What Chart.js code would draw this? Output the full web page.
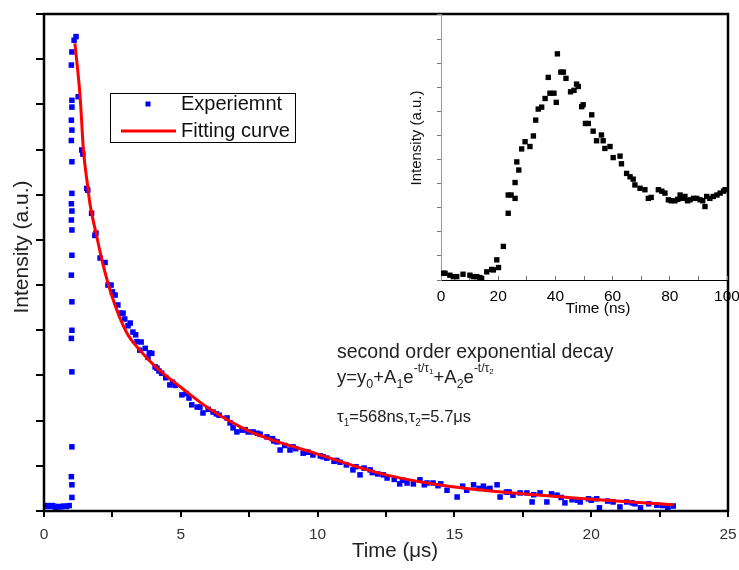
<!DOCTYPE html>
<html>
<head>
<meta charset="utf-8">
<script src="https://cdn.jsdelivr.net/npm/chart.js@4.4.0/dist/chart.umd.min.js"></script>
<style>
    html, body { margin: 0; padding: 0; background: #fff; }
    #wrap { position: relative; width: 739px; height: 570px; }
    #mainChart { position: absolute; left: 0; top: 0; }
    #insetChart { position: absolute; left: 395px; top: 0; }
</style>
</head>
<body>
<div id="wrap">
    <canvas id="mainChart" width="739" height="570"></canvas>
    <canvas id="insetChart" width="345" height="320"></canvas>
</div>
<script>
// Main decay, time in microseconds, intensity in a.u.
const expTime = [0.02, 0.12, 0.22, 0.32, 0.42, 0.52, 0.62, 0.72, 0.82, 0.92,
    1.02, 1.02, 1.0, 1.02, 1.02, 1.0, 1.02, 1.02, 1.0, 1.02, 1.02, 1.0, 1.02, 1.0, 1.02, 1.02, 1.0, 1.02, 1.0, 1.02, 1.02, 1.0, 1.02,
    1.1, 1.17, 1.25, 1.38, 1.42, 1.56, 1.6, 1.74, 1.86, 1.9, 2.05, 2.23, 2.34, 2.45, 2.6, 2.7, 2.78, 2.89,
    3.07, 3.15, 3.25, 3.35, 3.5, 3.55, 3.7, 3.85, 3.94, 4.06, 4.13, 4.3, 4.45, 4.6, 4.8, 5.04, 5.2, 5.4,
    5.6, 5.81, 6.0, 6.18, 6.4, 6.69, 6.91, 7.05, 7.24, 7.46, 7.64, 7.9, 8.15, 8.35, 8.52, 8.63, 8.8, 8.99,
    9.2, 9.47, 9.65, 9.83, 10.1, 10.34, 10.6, 10.82, 11.05, 11.29, 11.55, 11.7, 11.92, 12.2, 12.54, 12.8,
    13.0, 13.27, 13.5, 13.74, 14.0, 14.22, 14.5, 14.73, 15.1, 15.3, 15.45, 15.7, 16.06, 16.3, 16.56, 16.67,
    16.9, 17.14, 17.4, 17.65, 17.84, 18.13, 18.38, 18.55, 18.75, 19.04, 19.3, 19.6, 19.9, 20.2, 20.3, 20.6,
    21.05, 21.3, 21.5, 21.8, 22.1, 22.4, 22.8, 23.0,
    2.5, 2.95, 3.4, 3.8, 4.2, 4.7, 5.3, 5.7, 6.3, 6.8, 7.35, 7.8, 8.4, 9.1, 9.6, 10.2, 10.7, 11.4, 12.0, 12.4,
    13.1, 13.9, 14.4, 15.9, 16.2, 17.0, 17.9, 18.9, 19.5, 20.0, 20.8, 21.6, 22.6];
const expIntensity = [0.1, 0.12, 0.1, 0.12, 0.08, 0.1, 0.09, 0.11, 0.1, 0.12,
    0.3, 0.58, 0.76, 1.42, 3.08, 3.82, 4.0, 4.63, 5.22, 5.66, 6.22, 6.44, 6.64, 6.8, 7.03, 7.73, 8.2, 8.43, 8.65, 8.94, 9.09, 9.87, 10.16,
    10.42, 10.5, 9.17, 7.99, 7.9, 7.14, 7.1, 6.59, 6.1, 6.15, 5.6, 5.5, 5.0, 5.0, 4.78, 4.56, 4.38, 4.38,
    4.1, 4.16, 3.96, 3.9, 3.56, 3.74, 3.6, 3.5, 3.49, 3.19, 3.16, 3.05, 2.95, 2.79, 2.78, 2.57, 2.6, 2.35,
    2.3, 2.17, 2.25, 2.19, 2.12, 2.06, 1.84, 1.75, 1.79, 1.75, 1.75, 1.7, 1.64, 1.6, 1.53, 1.35, 1.45, 1.35,
    1.38, 1.28, 1.3, 1.24, 1.22, 1.17, 1.1, 1.08, 1.02, 0.91, 0.8, 0.95, 0.91, 0.82, 0.73, 0.7,
    0.6, 0.62, 0.6, 0.69, 0.62, 0.62, 0.6, 0.46, 0.31, 0.55, 0.46, 0.58, 0.55, 0.5, 0.58, 0.31,
    0.42, 0.35, 0.4, 0.4, 0.2, 0.4, 0.2, 0.38, 0.35, 0.18, 0.25, 0.2, 0.27, 0.27, 0.07, 0.22,
    0.09, 0.2, 0.18, 0.07, 0.16, 0.13, 0.07, 0.11,
    4.85, 4.25, 3.75, 3.4, 3.1, 2.85, 2.5, 2.3, 2.15, 1.95, 1.8, 1.72, 1.55, 1.42, 1.3, 1.2, 1.12, 0.98, 0.85, 0.8,
    0.68, 0.58, 0.56, 0.5, 0.48, 0.42, 0.36, 0.3, 0.24, 0.24, 0.2, 0.16, 0.12];

// Second order exponential fit
const fitTime = [1.13, 1.32, 1.44, 1.6, 1.68, 1.93, 2.16, 2.53, 3.02, 3.5, 4.12, 5.0, 6.0, 7.5, 10, 12.5, 15, 17.5, 20, 23];
const fitIntensity = [10.35, 9.17, 8.0, 7.17, 6.8, 6.07, 5.45, 4.67, 3.95, 3.56, 3.17, 2.74, 2.28, 1.77, 1.26, 0.8, 0.53, 0.38, 0.26, 0.14];

// Inset, time in ns
const insetTime = [0.8, 1.4, 3.1, 4.3, 5.5, 7.7, 10.1, 11.3, 12.5, 13.6, 14.2, 16, 17.7, 18.3, 19.5, 20.1, 21.8,
    23.5, 23.5, 24.5, 25.9, 25.9, 26.5, 27.2, 28.2, 29.4, 31.1, 32.3, 33.1, 34, 35.2, 36.4, 37.5, 38.1, 39.5,
    40.3, 40.7, 41.9, 42.8, 43.7, 45.3, 46.5, 47.4, 48, 49.2, 49.7, 50.5, 51.5, 52.7, 53.2, 54.4, 56.1, 56.7,
    57.3, 59.1, 60.2, 62.6, 63.1, 64.9, 66.1, 67.2, 67.8, 69.6, 71.3, 72.5, 73.5, 76, 77.2, 78.3, 79.5, 80.5,
    81.8, 82.8, 83.6, 84.5, 85.3, 86.2, 87.1, 88.3, 89.4, 90.6, 91.5, 92.3, 92.9, 94, 95.2, 96.5, 97.6, 98.8, 99.3];
const insetIntensity = [0.14, 0.14, 0.1, 0.07, 0.07, 0.12, 0.1, 0.07, 0.07, 0.05, 0.03, 0.17, 0.22, 0.21, 0.42, 0.26, 0.7,
    1.39, 1.77, 1.77, 1.7, 2.03, 2.46, 2.29, 2.73, 2.88, 2.78, 3.0, 3.33, 3.56, 3.6, 3.78, 4.22, 3.89, 3.89,
    3.7, 4.71, 4.33, 4.33, 4.2, 3.92, 3.95, 4.08, 4.03, 3.61, 3.65, 3.26, 3.26, 3.44, 3.1, 2.9, 3.02, 2.9,
    2.74, 2.78, 2.55, 2.58, 2.42, 2.22, 2.15, 2.1, 1.98, 1.91, 1.88, 1.7, 1.72, 1.88, 1.85, 1.81, 1.67, 1.65,
    1.65, 1.68, 1.77, 1.7, 1.74, 1.65, 1.67, 1.7, 1.7, 1.67, 1.65, 1.53, 1.74, 1.7, 1.74, 1.77, 1.81, 1.85, 1.88];

const mainXLabels = [0, 5, 10, 15, 20, 25];
const insetXLabels = [0, 20, 40, 60, 80, 100];
const legendLabels = ['Experiemnt', 'Fitting curve'];

const FONT = '"Liberation Sans", Arial, sans-serif';

function toPoints(xs, ys) {
    return xs.map((x, i) => ({ x: x, y: ys[i] }));
}

// Fixed axis box; drop the label padding Chart.js adds so the plot area stays put
function fixBox(size, horizontal) {
    return function (s) {
        if (horizontal) s.height = size; else s.width = size;
        s.paddingLeft = 0;
        s.paddingRight = 0;
        s.paddingTop = 0;
        s.paddingBottom = 0;
    };
}

// Write a run of text pieces, each piece with its own size and vertical shift
function drawRich(ctx, x, y, parts) {
    parts.forEach(p => {
        ctx.font = p[1] + 'px ' + FONT;
        ctx.fillText(p[0], x, y + p[2]);
        x += ctx.measureText(p[0]).width;
    });
}

function drawTitle(ctx, text, x, y, size, color, rotate) {
    ctx.save();
    ctx.translate(x, y);
    if (rotate) ctx.rotate(-Math.PI / 2);
    ctx.font = size + 'px ' + FONT;
    ctx.fillStyle = color;
    ctx.textAlign = 'center';
    ctx.textBaseline = 'middle';
    ctx.fillText(text, 0, 0);
    ctx.restore();
}

// Frame, axis titles, legend box and the fit equation
const decorPlugin = {
    id: 'decor',
    afterDraw(chart) {
        const ctx = chart.ctx;
        const a = chart.chartArea;
        ctx.save();
        ctx.strokeStyle = '#000';
        ctx.lineWidth = 2.5;
        ctx.strokeRect(a.left, a.top, a.right - a.left, a.bottom - a.top);

        drawTitle(ctx, 'Time (μs)', 395, 551, 20.5, '#222', false);
        drawTitle(ctx, 'Intensity (a.u.)', 22, 247, 21, '#222', true);

        // legend
        ctx.lineWidth = 1;
        ctx.strokeStyle = '#000';
        ctx.strokeRect(110.5, 93.5, 185, 49);
        ctx.fillStyle = chart.data.datasets[1].backgroundColor;
        ctx.fillRect(145.5, 101.5, 5, 5);
        ctx.strokeStyle = chart.data.datasets[0].borderColor;
        ctx.lineWidth = 3;
        ctx.beginPath();
        ctx.moveTo(121, 131);
        ctx.lineTo(176, 131);
        ctx.stroke();
        ctx.fillStyle = '#111';
        ctx.textBaseline = 'middle';
        ctx.font = '20px ' + FONT;
        ctx.fillText(legendLabels[0], 181, 104);
        ctx.fillText(legendLabels[1], 181, 131);

        // equation text
        ctx.textBaseline = 'alphabetic';
        ctx.fillStyle = '#222';
        ctx.font = '19.5px ' + FONT;
        ctx.fillText('second order exponential decay', 337, 358);
        drawRich(ctx, 337, 383, [
            ['y=y', 18.5, 0], ['0', 12.5, 5], ['+A', 18.5, 0], ['1', 12.5, 5], ['e', 18.5, 0],
            ['-t/τ', 12, -11], ['1', 8, -9], ['+A', 18.5, 0], ['2', 12.5, 5], ['e', 18.5, 0],
            ['-t/τ', 12, -11], ['2', 8, -9]
        ]);
        drawRich(ctx, 337, 422, [
            ['τ', 17, 0], ['1', 10, 4], ['=568ns,', 16.5, 0], ['τ', 17, 0], ['2', 10, 4], ['=5.7μs', 16.5, 0]
        ]);
        ctx.restore();
    }
};

const insetTitlePlugin = {
    id: 'insetTitles',
    afterDraw(chart) {
        drawTitle(chart.ctx, 'Time (ns)', 203, 309, 15.5, '#000', false);
        drawTitle(chart.ctx, 'Intensity (a.u.)', 22, 138, 15, '#111', true);
    }
};

new Chart(document.getElementById('mainChart').getContext('2d'), {
    type: 'scatter',
    data: {
        datasets: [
            {
                type: 'line',
                label: legendLabels[1],
                data: toPoints(fitTime, fitIntensity),
                borderColor: '#ff0000',
                borderWidth: 3,
                pointRadius: 0,
                cubicInterpolationMode: 'monotone',
                fill: false
            },
            {
                type: 'scatter',
                label: legendLabels[0],
                data: toPoints(expTime, expIntensity),
                pointStyle: 'rect',
                pointRadius: 3.9,
                backgroundColor: '#0000ff',
                borderWidth: 0
            }
        ]
    },
    options: {
        responsive: false,
        animation: false,
        layout: { padding: { top: 14, right: 11, left: 0, bottom: 0 } },
        plugins: { legend: { display: false }, tooltip: { enabled: false } },
        scales: {
            x: {
                type: 'linear',
                min: 0,
                max: 25,
                afterFit: fixBox(59, true),
                border: { display: false },
                grid: { drawOnChartArea: false, tickLength: 6, color: '#000', lineWidth: 2 },
                ticks: {
                    stepSize: 2.5,
                    autoSkip: false,
                    maxRotation: 0,
                    padding: 8,
                    color: '#333',
                    font: { family: FONT, size: 15.5 },
                    callback: v => mainXLabels.includes(v) ? String(v) : ''
                }
            },
            y: {
                type: 'linear',
                min: 0,
                max: 11,
                afterFit: fixBox(44, false),
                border: { display: false },
                grid: { drawOnChartArea: false, tickLength: 8, color: '#000', lineWidth: 2 },
                ticks: { stepSize: 1, autoSkip: false, callback: () => '' }
            }
        }
    },
    plugins: [decorPlugin]
});

new Chart(document.getElementById('insetChart').getContext('2d'), {
    type: 'scatter',
    data: {
        datasets: [
            {
                data: toPoints(insetTime, insetIntensity),
                pointStyle: 'rect',
                pointRadius: 3.8,
                backgroundColor: '#000',
                borderWidth: 0
            }
        ]
    },
    options: {
        responsive: false,
        animation: false,
        layout: { padding: { top: 14, right: 13, left: 0, bottom: 0 } },
        plugins: { legend: { display: false }, tooltip: { enabled: false } },
        scales: {
            x: {
                type: 'linear',
                min: 0,
                max: 100,
                afterFit: fixBox(40, true),
                border: { display: true, color: '#000', width: 1 },
                grid: { drawOnChartArea: false, tickLength: -4, color: '#777', lineWidth: 1 },
                ticks: {
                    stepSize: 10,
                    autoSkip: false,
                    maxRotation: 0,
                    padding: 11,
                    color: '#000',
                    font: { family: FONT, size: 15.5 },
                    callback: v => insetXLabels.includes(v) ? String(v) : ''
                }
            },
            y: {
                type: 'linear',
                min: 0,
                max: 5.54,
                afterFit: fixBox(46, false),
                border: { display: true, color: '#999', width: 1 },
                grid: { drawOnChartArea: false, tickLength: 4, color: '#777', lineWidth: 1 },
                ticks: { stepSize: 0.5, autoSkip: false, callback: () => '' }
            }
        }
    },
    plugins: [insetTitlePlugin]
});
</script>
</body>
</html>
